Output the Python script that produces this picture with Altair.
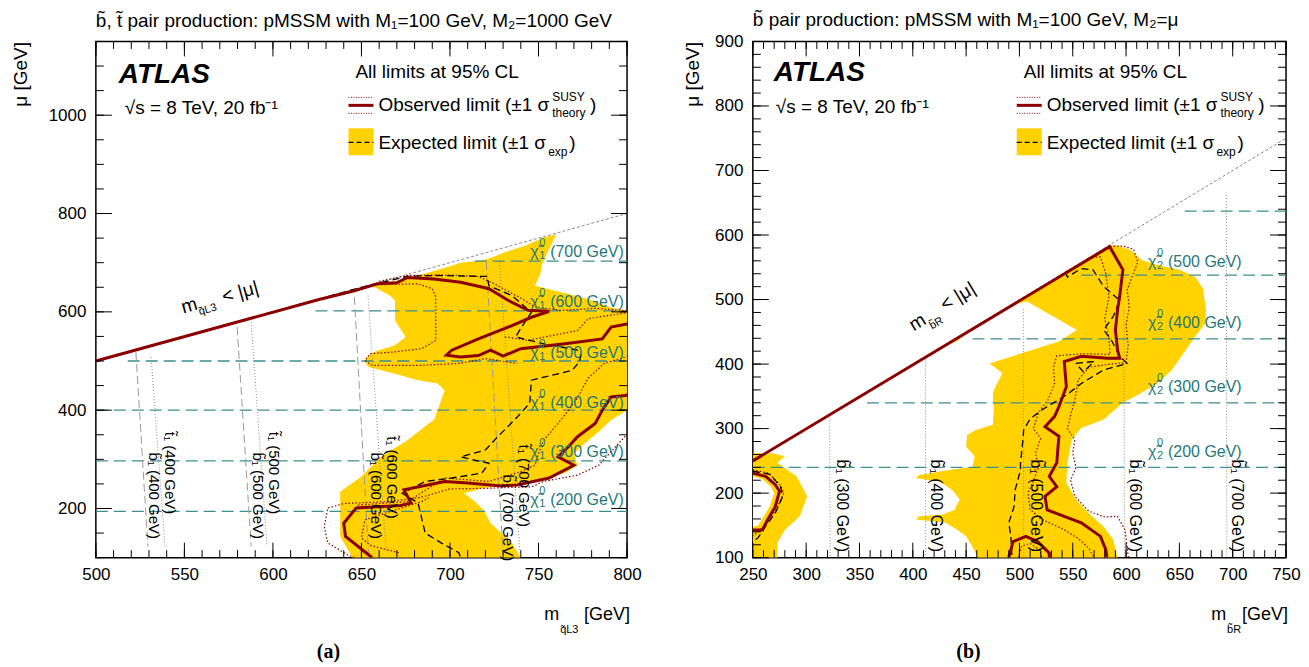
import altair as alt
import pandas as pd
import numpy as np

FONT = "Liberation Sans"
YELLOW = "#ffd200"
RED = "#8b0000"
TEAL = "#3d8f8f"
TEAL_TXT = "#1f7878"
GRAY = "#8a8a8a"
T = "\u0303"  # combining tilde

# ======================= Panel (a) =======================
A_XDOM = [500, 800]
A_YDOM = [100, 1150]
A_XTICKS = [500, 550, 600, 650, 700, 750, 800]
A_YTICKS = [200, 400, 600, 800, 1000]

A_KIN = [(500, 500), (800, 800)]
A_BAND = [(656, 653), (674, 667), (688, 680), (701, 694), (706, 700), (716, 704), (721, 707), (731, 721),
          (742, 734), (753, 751), (760, 758), (752, 697), (751, 677), (748, 653), (763, 640), (778, 626),
          (791, 609), (800, 602), (800, 400), (791, 380), (784, 356), (776, 332), (770, 312), (772, 288),
          (765, 272), (744, 251), (720, 242), (708, 231), (714, 214), (719, 197), (723, 170), (729, 150),
          (735, 130), (740, 100), (645, 100), (644, 106), (638, 143), (638, 234), (650, 265), (661, 305),
          (676, 339), (688, 373), (691, 380), (695, 420), (697, 440), (693, 454), (682, 461), (669, 474),
          (654, 488), (652, 498), (653, 508), (658, 520), (669, 532), (675, 549), (669, 582), (669, 623),
          (666, 633)]
A_OBS_UPPER = [(500, 500), (625, 624), (646, 643), (659, 657), (670, 659), (676, 670), (691, 667), (706, 660),
               (716, 652), (722, 647), (733, 623), (744, 603), (756, 601), (746, 589), (735, 572), (716, 545),
               (701, 522), (698, 512), (706, 508), (716, 511), (723, 522), (730, 510), (740, 525), (765, 535),
               (786, 545), (791, 569), (801, 576)]
A_OBS_LOWER = [(656, 100), (654, 106), (641, 143), (640, 170), (647, 201), (672, 206), (678, 211), (674, 238),
               (697, 255), (710, 252), (729, 246), (738, 248), (756, 262), (763, 275), (770, 288), (761, 305),
               (767, 326), (772, 346), (782, 373), (786, 400), (791, 427), (799, 430), (801, 432)]
A_SIG_1 = [(660, 662), (676, 674), (700, 675), (716, 672), (725, 657), (739, 630), (748, 610), (763, 603),
           (782, 607), (801, 602)]
A_SIG_2 = [(657, 655), (682, 657), (690, 647), (692, 630), (692, 542), (684, 525), (667, 518), (655, 515),
           (652, 501), (656, 491), (682, 491), (705, 495), (720, 505), (738, 495)]
A_SIG_3 = [(731, 549), (744, 542), (772, 562), (778, 586), (801, 599)]
A_SIG_4 = [(648, 207), (676, 214), (697, 262), (722, 255), (740, 275), (748, 288), (750, 312), (753, 339),
           (761, 373), (767, 400), (772, 425), (778, 465), (787, 495), (801, 510)]
A_SIG_5 = [(646, 100), (642, 106), (631, 130), (629, 163), (631, 201), (640, 210), (665, 214), (683, 222),
           (700, 240), (720, 241), (746, 244), (753, 255), (772, 268), (784, 288), (801, 355)]
A_SIG_6 = [(671, 110), (655, 125), (650, 140), (652, 177), (669, 197), (684, 214), (688, 222)]
A_EXP = [(500, 500), (650, 650), (676, 672), (691, 674), (721, 672), (722, 653), (735, 633), (746, 599),
         (741, 572), (737, 549), (753, 535), (772, 522), (774, 512), (773, 498), (769, 481), (761, 474),
         (746, 461), (745, 414), (738, 386), (727, 346), (720, 319), (706, 305), (722, 292), (718, 272),
         (701, 262), (686, 255), (673, 231), (682, 211), (686, 150), (695, 130), (705, 110), (706, 100)]
A_CHI_MU = [703, 602, 500, 400, 297, 194]
A_CHI_FROM = [714, 624, 518, 500, 500, 500]
A_CHI_MASS = [700, 600, 500, 400, 300, 200]
A_STOP = [[(522.6, 518), (529.4, 122)], [(579.8, 569), (587.7, 123)],
          [(646, 630), (654, 105)], [(720.5, 701), (730, 105)]]
A_SBOT = [[(531.2, 508), (539, 123)], [(587.7, 579), (596.7, 123)],
          [(653.7, 633), (664, 110)], [(728, 701), (739.5, 110)]]
A_SQ_MASS = [400, 500, 600, 700]

# annotation anchors (data units) for panel (a)
A_CHI_LAB = [(745.3, 722), (745.3, 621), (745.3, 517), (745.3, 415), (745.3, 315), (745.3, 218)]
A_STOP_LAB = [(541.9, 356), (600.7, 356), (667.5, 347), (742, 330)]
A_SBOT_LAB = [(532.7, 314), (591.4, 314), (658, 314), (732.8, 269)]
A_KIN_LAB = [(552.8, 612.6), (563.2, 604.4), (581.5, 640)]

# ======================= Panel (b) =======================
B_XDOM = [250, 750]
B_YDOM = [100, 900]
B_XTICKS = [250, 300, 350, 400, 450, 500, 550, 600, 650, 700, 750]
B_YTICKS = [100, 200, 300, 400, 500, 600, 700, 800, 900]

B_KIN = [(250, 250), (750, 750)]
B_BAND = [(490, 490), (583, 583), (590, 584.5), (604, 577), (615, 561), (629, 554), (650, 546), (665, 535),
          (672, 517), (675, 484), (674, 463), (665, 443), (654, 417), (643, 391), (629, 370), (611, 352),
          (597, 340), (579, 314), (558, 301), (549, 283), (545, 247), (544, 216), (553, 190), (565, 169),
          (579, 148), (588, 128), (592, 100), (461, 100), (456, 117), (450, 133), (442, 143), (431, 154),
          (403, 159), (406, 164), (428, 167), (439, 174), (444, 190), (437, 205), (425, 218), (403, 223),
          (406, 228), (434, 236), (456, 241), (458, 257), (450, 272), (451, 290), (459, 298), (475, 306),
          (476, 329), (475, 350), (476, 360), (484, 386), (472, 401), (537, 435), (554, 453), (507, 497)]
B_BAND_SLIVER = [(423, 423), (455, 455), (442, 436)]
B_BAND_CORNER = [(250, 262), (269, 262), (280, 257), (273, 247), (291, 226), (301, 195), (294, 164),
                 (280, 143), (273, 123), (273, 100), (250, 100)]
B_BAND_HOLE = [(250, 226), (259, 222), (267, 210), (270, 200), (266, 180), (260, 163), (255, 150), (250, 148)]
B_OBS_MAIN = [(250, 250), (584.6, 582), (597, 546), (594, 505), (592, 484), (590, 453), (592, 422), (594, 409),
              (583, 409), (558, 412), (542, 404), (544, 365), (537, 334), (533, 319), (524, 303), (537, 288),
              (535, 247), (528, 226), (535, 210), (524, 195), (526, 174), (558, 154), (576, 133), (581, 112),
              (582, 100)]
B_OBS_SMALL = [(490, 100), (494, 125), (506, 133), (517, 125), (528, 107), (528, 100)]
B_OBS_LOOP = [(250, 231), (262, 226), (271, 213), (275, 203), (271, 179), (264, 159), (259, 143), (250, 143)]
B_SIG_1 = [(585, 582), (597, 583), (607, 578), (611, 558), (606, 537), (601, 515), (603, 490), (600, 460),
           (602, 430), (600, 402), (585, 400), (565, 395), (555, 375), (552, 345), (548, 320), (545, 300),
           (552, 283), (550, 262), (553, 240), (548, 220), (552, 195), (565, 172), (580, 163), (592, 164),
           (599, 143), (602, 102), (603, 100)]
B_SIG_2 = [(565, 565), (576, 566), (581, 540), (584, 505), (580, 470), (584, 440), (585, 415), (560, 416),
           (535, 413), (532, 395), (533, 370), (527, 345), (518, 325), (513, 300), (520, 285), (515, 262),
           (518, 240), (512, 215), (508, 200), (510, 175), (520, 160), (540, 145), (555, 130), (565, 115),
           (570, 100)]
B_SIG_3 = [(499, 100), (502, 118), (510, 122), (519, 112), (521, 100)]
B_SIG_4 = [(250, 236), (265, 231), (276, 212), (279, 200), (272, 175), (262, 152), (252, 136), (250, 134)]
B_EXP_MAIN = [(543, 543), (545, 535), (558, 548), (569, 546), (579, 520), (594, 499), (588, 474), (579, 453),
              (586, 438), (594, 412), (601, 401), (579, 391), (558, 370), (544, 352), (522, 330), (510, 315),
              (504, 298), (503, 278), (501, 247), (501, 236), (496, 205), (495, 179), (490, 154), (492, 133),
              (493, 100)]
B_EXP_TRI = [(553, 401), (570, 404), (560, 388), (553, 401)]
B_EXP_LOOP = [(250, 234), (266, 229), (276, 210), (278, 195), (271, 169), (262, 149), (255, 131), (250, 125)]
B_CHI_MU = [637, 538, 439, 340, 240]
B_CHI_FROM = [655, 558, 456, 357, 250]
B_CHI_MASS = [500, 400, 300, 200]
B_SBOT = [[(322, 322), (322.5, 100)], [(411.8, 411.8), (412, 100)], [(503.7, 485), (504, 100)],
          [(598, 484), (598.5, 100)], [(694, 662), (694.5, 100)]]
B_SQ_MASS = [300, 400, 500, 600, 700]

B_CHI_LAB = [(620.6, 558.7), (620.6, 463.3), (620.6, 364.2), (620.6, 263)]
B_SBOT_LAB = [(333.4, 252), (421.3, 252), (515.8, 252), (608.5, 252), (704, 252)]
B_KIN_LAB = [(404.4, 464.6), (422.3, 463), (442.3, 504.8)]


def paths_df(paths):
    rows = []
    for g, pts in enumerate(paths):
        for i, (x, y) in enumerate(pts):
            rows.append({"x": float(x), "y": float(y), "g": g, "i": i})
    return pd.DataFrame(rows)


def build_panel(P):
    W, H = P["W"], P["H"]
    XS = alt.Scale(domain=P["xdom"], nice=False, zero=False)
    YS = alt.Scale(domain=P["ydom"], nice=False, zero=False)
    xaxis = alt.Axis(values=P["xticks"], title=None, labelPadding=9, format="d")
    yaxis = alt.Axis(values=P["yticks"], title="μ [GeV]", titleAnchor="end",
                     titlePadding=P["ytitlepad"], labelPadding=10, format="d")

    def xq():
        return alt.X("x:Q", scale=XS, axis=xaxis)

    def yq():
        return alt.Y("y:Q", scale=YS, axis=yaxis)

    L = []

    def poly(paths, color):
        return alt.Chart(paths_df(paths)).mark_line(
            fill=color, strokeWidth=0, strokeOpacity=0, clip=True).encode(
            x=xq(), y=yq(), detail="g:N", order=alt.Order("i:Q"))

    def line(paths, color, width, dash=None):
        kw = dict(color=color, strokeWidth=width, clip=True)
        if dash:
            kw["strokeDash"] = dash
        return alt.Chart(paths_df(paths)).mark_line(**kw).encode(
            x=xq(), y=yq(), detail="g:N", order=alt.Order("i:Q"))

    def dtext(pts, texts, size, color="black", angle=0, align="left", baseline="middle", dx=0, dy=0):
        df = pd.DataFrame({"x": [p[0] for p in pts], "y": [p[1] for p in pts], "t": texts})
        kw = dict(font=FONT, fontSize=size, color=color, align=align, baseline=baseline, dx=dx, dy=dy)
        if angle:
            kw["angle"] = angle
        return alt.Chart(df).mark_text(**kw).encode(x=xq(), y=yq(), text="t:N")

    def ptext(txt, x, y, size=19, align="left", baseline="middle", **kw):
        return alt.Chart(pd.DataFrame({"t": [txt]})).mark_text(
            font=kw.pop("font", FONT), fontSize=size, align=align, baseline=baseline, color="black", **kw
        ).encode(x=alt.value(x), y=alt.value(y), text="t:N")

    def prule(x1, x2, y, color, width, dash=None):
        kw = dict(color=color, strokeWidth=width)
        if dash:
            kw["strokeDash"] = dash
        return alt.Chart(pd.DataFrame({"t": [0]})).mark_rule(**kw).encode(
            x=alt.value(x1), x2=alt.value(x2), y=alt.value(y))

    # expected band
    L.append(poly(P["band"], YELLOW))
    if P.get("holes"):
        L.append(poly(P["holes"], "white"))
    # kinematic boundary
    L.append(line([P["kin"]], GRAY, 1, [3, 2]))
    # neutralino/chargino mass contours
    chi = [[(x0, mu), (P["xdom"][1], mu)] for mu, x0 in zip(P["chi_mu"], P["chi_from"])]
    L.append(line(chi, TEAL, 1.3, [12, 6]))
    # squark mass contours
    if P.get("stop"):
        L.append(line(P["stop"], "#9a9a9a", 1, [8, 4]))
    L.append(line(P["sbot"], GRAY, 1, [1, 2]))
    # observed +-1 sigma theory
    L.append(line(P["sig"], RED, 1.2, [1.5, 2]))
    # expected
    L.append(line(P["exp"], "black", 1.3, [7, 4]))
    # observed
    L.append(line(P["obs"], RED, 3))

    # labels on contours
    lab = P["chi_lab"]
    L.append(dtext(lab, ["χ" + T] * len(lab), 16, TEAL_TXT))
    L.append(dtext(lab, ["0"] * len(lab), 11, TEAL_TXT, dx=9, dy=-9))
    L.append(dtext(lab, [P["chi_sub"]] * len(lab), 11, TEAL_TXT, dx=9, dy=4))
    L.append(dtext(lab, ["(%d GeV)" % m for m in P["chi_mass"]], 16, TEAL_TXT, dx=20))
    if P.get("stop_lab"):
        L.append(dtext(P["stop_lab"], ["t" + T + "₁ (%d GeV)" % m for m in P["sq_mass"]], 15, angle=90))
    L.append(dtext(P["sbot_lab"], ["b" + T + "₁ (%d GeV)" % m for m in P["sq_mass"]], P["sq_size"], angle=90))
    k = P["kin_lab"]
    L.append(dtext([k[0]], ["m"], 19, angle=P["kin_angle"], align="center"))
    L.append(dtext([k[1]], [P["kin_sub"]], 11, angle=P["kin_angle"], align="center"))
    L.append(dtext([k[2]], ["< |μ|"], 19, angle=P["kin_angle"], align="center"))

    # legend / header text
    ox = P["leg_dx"]
    L.append(ptext("ATLAS", P["atlas"][0], P["atlas"][1], 28, fontWeight="bold", fontStyle="italic"))
    L.append(ptext("√s = 8 TeV, 20 fb⁻¹", P["sqrts"][0], P["sqrts"][1], 19))
    L.append(ptext("All limits at 95% CL", 260 + ox, 31, 19))
    L.append(prule(253 + ox, 278 + ox, 64, RED, 3))
    L.append(prule(253 + ox, 278 + ox, 56, RED, 1, [1, 1.5]))
    L.append(prule(253 + ox, 278 + ox, 72, RED, 1, [1, 1.5]))
    L.append(ptext("Observed limit (±1 σ", 283 + ox, 64, 19))
    L.append(ptext("SUSY", 457 + ox, 56, 12))
    L.append(ptext("theory", 457 + ox, 72, 12))
    L.append(ptext(")", 495 + ox, 64, 19))
    L.append(alt.Chart(pd.DataFrame({"t": [0]})).mark_rect(color=YELLOW).encode(
        x=alt.value(253 + ox), x2=alt.value(278 + ox), y=alt.value(87), y2=alt.value(114)))
    L.append(prule(253 + ox, 278 + ox, 101, "black", 1.3, [5, 3]))
    L.append(ptext("Expected limit (±1 σ", 283 + ox, 102, 19))
    L.append(ptext("exp", 453 + ox, 111, 12))
    L.append(ptext(")", 474 + ox, 102, 19))

    # x-axis title and panel tag
    xt = P["xtitle"]
    L.append(ptext("[GeV]", xt[0], 574, 18, align="right"))
    L.append(ptext("m", xt[1], 574, 18, align="right"))
    L.append(ptext(P["xsub"], xt[2], 589, 11))
    L.append(ptext(P["tag"], P["tag_x"], 611, 20, align="center",
                   font="Liberation Serif", fontWeight="bold"))

    # inward ticks on all four sides
    for vals, ln in [(P["xminor"], 7.5), (P["xticks"], 15)]:
        df = pd.DataFrame({"x": vals})
        L.append(alt.Chart(df).mark_rule(color="black", strokeWidth=1).encode(
            x=xq(), y=alt.value(H), y2=alt.value(H - ln)))
        L.append(alt.Chart(df).mark_rule(color="black", strokeWidth=1).encode(
            x=xq(), y=alt.value(0), y2=alt.value(ln)))
    for vals, ln in [(P["yminor"], 8), (P["yticks"], 16)]:
        df = pd.DataFrame({"y": vals})
        L.append(alt.Chart(df).mark_rule(color="black", strokeWidth=1).encode(
            y=yq(), x=alt.value(0), x2=alt.value(ln)))
        L.append(alt.Chart(df).mark_rule(color="black", strokeWidth=1).encode(
            y=yq(), x=alt.value(W), x2=alt.value(W - ln)))

    return alt.layer(*L).properties(
        width=W, height=H,
        title=alt.TitleParams(P["title"], anchor="start", frame="group", font=FONT, fontSize=19,
                              fontWeight="normal", color="black", offset=P["title_offset"]))


PA = dict(
    W=532, H=517, xdom=A_XDOM, ydom=A_YDOM, xticks=A_XTICKS, yticks=A_YTICKS,
    xminor=list(range(500, 801, 10)), yminor=list(range(100, 1151, 50)), ytitlepad=18,
    band=[A_BAND], holes=None, kin=A_KIN, chi_mu=A_CHI_MU, chi_from=A_CHI_FROM,
    stop=A_STOP, sbot=A_SBOT, sig=[A_SIG_1, A_SIG_2, A_SIG_3, A_SIG_4, A_SIG_5, A_SIG_6],
    exp=[A_EXP], obs=[A_OBS_UPPER, A_OBS_LOWER], chi_lab=A_CHI_LAB, chi_sub="1", chi_mass=A_CHI_MASS,
    stop_lab=A_STOP_LAB, sbot_lab=A_SBOT_LAB, sq_mass=A_SQ_MASS, sq_size=15,
    kin_lab=A_KIN_LAB, kin_angle=344.5, kin_sub="q" + T + "L3",
    leg_dx=0, atlas=(23, 34), sqrts=(29, 67), xtitle=(535, 464, 465), xsub="q" + T + "L3",
    tag="(a)", tag_x=233, title_offset=10,
    title="b" + T + ", t" + T + " pair production: pMSSM with M₁=100 GeV, M₂=1000 GeV",
)

PB = dict(
    W=534, H=517, xdom=B_XDOM, ydom=B_YDOM, xticks=B_XTICKS, yticks=B_YTICKS,
    xminor=list(range(250, 751, 10)), yminor=list(range(100, 901, 20)), ytitlepad=12,
    band=[B_BAND, B_BAND_SLIVER, B_BAND_CORNER], holes=[B_BAND_HOLE], kin=B_KIN,
    chi_mu=B_CHI_MU, chi_from=B_CHI_FROM, stop=None, sbot=B_SBOT,
    sig=[B_SIG_1, B_SIG_2, B_SIG_3, B_SIG_4], exp=[B_EXP_MAIN, B_EXP_TRI, B_EXP_LOOP],
    obs=[B_OBS_MAIN, B_OBS_SMALL, B_OBS_LOOP], chi_lab=B_CHI_LAB, chi_sub="2", chi_mass=B_CHI_MASS,
    stop_lab=None, sbot_lab=B_SBOT_LAB, sq_mass=B_SQ_MASS, sq_size=16,
    kin_lab=B_KIN_LAB, kin_angle=329, kin_sub="b" + T + "R",
    leg_dx=11.3, atlas=(21, 32), sqrts=(23, 66), xtitle=(536, 474, 475), xsub="b" + T + "R",
    tag="(b)", tag_x=216, title_offset=2,
    title="b" + T + " pair production: pMSSM with M₁=100 GeV, M₂=μ",
)

chart = alt.hconcat(build_panel(PA), build_panel(PB), spacing=40).properties(
    padding={"left": 2, "top": 2, "right": 0, "bottom": 0}, background="white"
).configure_view(stroke="black", strokeWidth=1.5).configure_axis(
    labelFont=FONT, labelFontSize=17, labelColor="black", titleFont=FONT, titleFontSize=19,
    titleFontWeight="normal", titleColor="black", ticks=False, domain=False, grid=False,
    labelFlush=False)

chart.save("out.html", embed_options={"renderer": "svg", "actions": False})
